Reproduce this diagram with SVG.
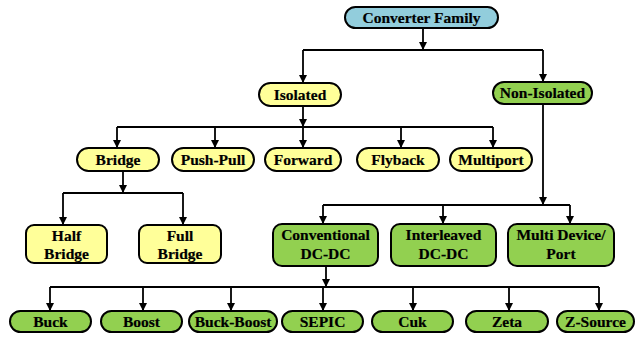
<svg xmlns="http://www.w3.org/2000/svg" width="636" height="337" viewBox="0 0 636 337">
  <defs>
    <marker id="arrow" markerUnits="userSpaceOnUse" markerWidth="8" markerHeight="8" refX="8" refY="4" orient="auto">
      <path d="M0,0 L8,4 L0,8 z" fill="#000"/>
    </marker>
    <style>
      .box { stroke: #000; stroke-width: 2; }
      .root { fill: #92CDDC; }
      .iso { fill: #FFFF99; }
      .non { fill: #92D050; }
      .lbl { font-family: "Liberation Serif", "Times New Roman", serif; font-weight: bold; font-size: 15.5px; text-anchor: middle; fill: #000; stroke: #000; stroke-width: 0.2; }
      .wire { fill: none; stroke: #000; stroke-width: 1.8; }
      .arr { marker-end: url(#arrow); }
    </style>
  </defs>
  <rect width="636" height="337" fill="#fff"/>

  <!-- connectors -->
  <g id="connectors">
    <path class="wire arr" d="M423,28 V50"/>
    <path class="wire" d="M303,50 H543"/>
    <path class="wire arr" d="M303,50 V83"/>
    <path class="wire arr" d="M543,50 V82"/>

    <path class="wire arr" d="M303,106 V127"/>
    <path class="wire" d="M117,127 H493"/>
    <path class="wire arr" d="M117,127 V148"/>
    <path class="wire arr" d="M215,127 V148"/>
    <path class="wire arr" d="M303,127 V148"/>
    <path class="wire arr" d="M401,127 V148"/>
    <path class="wire arr" d="M493,127 V148"/>

    <path class="wire arr" d="M123,171 V193"/>
    <path class="wire" d="M63,193 H183"/>
    <path class="wire arr" d="M63,193 V225"/>
    <path class="wire arr" d="M183,193 V225"/>

    <path class="wire arr" d="M543,104 V205"/>
    <path class="wire" d="M323,205 H570"/>
    <path class="wire arr" d="M323,205 V224"/>
    <path class="wire arr" d="M443,205 V224"/>
    <path class="wire arr" d="M570,205 V224"/>

    <path class="wire arr" d="M326,266 V287"/>
    <path class="wire" d="M50,287 H599"/>
    <path class="wire arr" d="M50,287 V311"/>
    <path class="wire arr" d="M143,287 V311"/>
    <path class="wire arr" d="M231,287 V311"/>
    <path class="wire arr" d="M323,287 V311"/>
    <path class="wire arr" d="M413,287 V311"/>
    <path class="wire arr" d="M509,287 V311"/>
    <path class="wire arr" d="M599,287 V311"/>
  </g>

  <!-- top level -->
  <g id="converter-family">
    <rect class="box root" x="345" y="7" width="153" height="21" rx="10.5"/>
    <text class="lbl" x="421.5" y="22.5">Converter Family</text>
  </g>

  <!-- second level -->
  <g id="isolated">
    <rect class="box iso" x="259" y="83" width="82" height="23" rx="11.5"/>
    <text class="lbl" x="300" y="100">Isolated</text>
  </g>
  <g id="non-isolated">
    <rect class="box non" x="493" y="82" width="99" height="22" rx="11"/>
    <text class="lbl" x="542.5" y="98">Non-Isolated</text>
  </g>

  <!-- isolated branch -->
  <g id="bridge">
    <rect class="box iso" x="77" y="148" width="82" height="23" rx="11.5"/>
    <text class="lbl" x="118" y="164.5">Bridge</text>
  </g>
  <g id="push-pull">
    <rect class="box iso" x="172" y="148" width="82" height="23" rx="11.5"/>
    <text class="lbl" x="213" y="164.5">Push-Pull</text>
  </g>
  <g id="forward">
    <rect class="box iso" x="265" y="148" width="76" height="23" rx="11.5"/>
    <text class="lbl" x="303" y="164.5">Forward</text>
  </g>
  <g id="flyback">
    <rect class="box iso" x="357" y="148" width="82" height="23" rx="11.5"/>
    <text class="lbl" x="398" y="164.5">Flyback</text>
  </g>
  <g id="multiport">
    <rect class="box iso" x="450" y="148" width="82" height="23" rx="11.5"/>
    <text class="lbl" x="491" y="164.5">Multiport</text>
  </g>

  <g id="half-bridge">
    <rect class="box iso" x="26" y="225" width="81" height="38" rx="8"/>
    <text class="lbl" x="66.5" y="240.5">Half</text>
    <text class="lbl" x="66.5" y="259">Bridge</text>
  </g>
  <g id="full-bridge">
    <rect class="box iso" x="139" y="225" width="82" height="38" rx="8"/>
    <text class="lbl" x="180" y="240.5">Full</text>
    <text class="lbl" x="180" y="259">Bridge</text>
  </g>

  <!-- non-isolated branch -->
  <g id="conventional">
    <rect class="box non" x="273" y="224" width="105" height="42" rx="9"/>
    <text class="lbl" x="325.5" y="240">Conventional</text>
    <text class="lbl" x="325.5" y="259">DC-DC</text>
  </g>
  <g id="interleaved">
    <rect class="box non" x="391" y="224" width="105" height="42" rx="9"/>
    <text class="lbl" x="443.5" y="240">Interleaved</text>
    <text class="lbl" x="443.5" y="259">DC-DC</text>
  </g>
  <g id="multi-device">
    <rect class="box non" x="508" y="224" width="106" height="42" rx="9"/>
    <text class="lbl" x="561" y="240">Multi Device/</text>
    <text class="lbl" x="561" y="259">Port</text>
  </g>

  <!-- conventional topologies -->
  <g id="buck">
    <rect class="box non" x="10" y="311" width="81" height="21" rx="10.5"/>
    <text class="lbl" x="50.5" y="326.5">Buck</text>
  </g>
  <g id="boost">
    <rect class="box non" x="101" y="311" width="81" height="21" rx="10.5"/>
    <text class="lbl" x="141.5" y="326.5">Boost</text>
  </g>
  <g id="buck-boost">
    <rect class="box non" x="189" y="311" width="88" height="21" rx="10.5"/>
    <text class="lbl" x="233" y="326.5">Buck-Boost</text>
  </g>
  <g id="sepic">
    <rect class="box non" x="282" y="311" width="81" height="21" rx="10.5"/>
    <text class="lbl" x="322.5" y="326.5">SEPIC</text>
  </g>
  <g id="cuk">
    <rect class="box non" x="372" y="311" width="81" height="21" rx="10.5"/>
    <text class="lbl" x="412.5" y="326.5">Cuk</text>
  </g>
  <g id="zeta">
    <rect class="box non" x="466" y="311" width="82" height="21" rx="10.5"/>
    <text class="lbl" x="507" y="326.5">Zeta</text>
  </g>
  <g id="z-source">
    <rect class="box non" x="557" y="311" width="77" height="21" rx="10.5"/>
    <text class="lbl" x="595.5" y="326.5">Z-Source</text>
  </g>
</svg>
